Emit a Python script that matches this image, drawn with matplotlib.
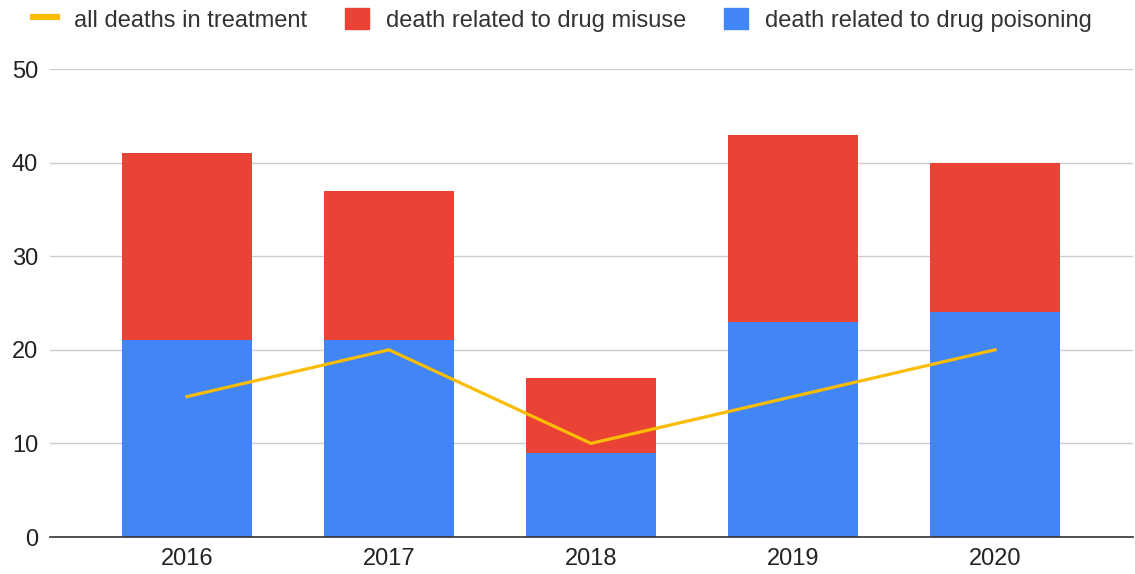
import matplotlib
matplotlib.use("Agg")
import matplotlib.pyplot as plt
from matplotlib.lines import Line2D
from matplotlib.patches import Patch
import numpy as np

plt.rcParams['font.family'] = ['Liberation Sans', 'DejaVu Sans']

years = ['2016', '2017', '2018', '2019', '2020']
poisoning = [21, 21, 9, 23, 24]
misuse = [20, 16, 8, 20, 16]
all_treatment = [15, 20, 10, 15, 20]

blue = '#4285F4'
red = '#EA4335'
yellow = '#FBBC04'

fig = plt.figure(figsize=(11.35, 5.74), dpi=100)
ax = fig.add_axes([50/1135, 1 - 537/574, (1133 - 50)/1135, (537 - 69)/574])

x = np.arange(len(years))
ax.bar(x, poisoning, width=0.645, color=blue, zorder=2)
ax.bar(x, misuse, width=0.645, bottom=poisoning, color=red, zorder=2)
ax.plot(x, all_treatment, color=yellow, linewidth=2.3, zorder=3)

ax.set_xlim(-0.678, 4.683)
ax.set_ylim(0, 50)
ax.set_yticks([0, 10, 20, 30, 40, 50])
ax.set_xticks(x)
ax.set_xticklabels(years)
ax.yaxis.grid(True, color='#cccccc', linewidth=1)
ax.set_axisbelow(True)
for side in ['top', 'right', 'left']:
    ax.spines[side].set_visible(False)
ax.spines['bottom'].set_color('#333333')
ax.spines['bottom'].set_linewidth(1.2)
ax.spines['bottom'].set_zorder(4)
ax.tick_params(axis='both', length=0, labelsize=17, colors='#222222')
ax.tick_params(axis='y', pad=8.5)
ax.tick_params(axis='x', pad=8)

handles = [
    Line2D([0], [0], color=yellow, linewidth=4.5),
    Patch(facecolor=red, edgecolor=red),
    Patch(facecolor=blue, edgecolor=blue),
]
labels = ['all deaths in treatment', 'death related to drug misuse',
          'death related to drug poisoning']
fig.legend(handles, labels, loc='upper left', bbox_to_anchor=(33/1135, 1 - 8/574),
           ncol=3, frameon=False, fontsize=17, handlelength=1.02, handleheight=1.02,
           handletextpad=0.72, columnspacing=1.6, borderpad=0, borderaxespad=0,
           labelcolor='#333333')

fig.savefig('out.png', dpi=100)
